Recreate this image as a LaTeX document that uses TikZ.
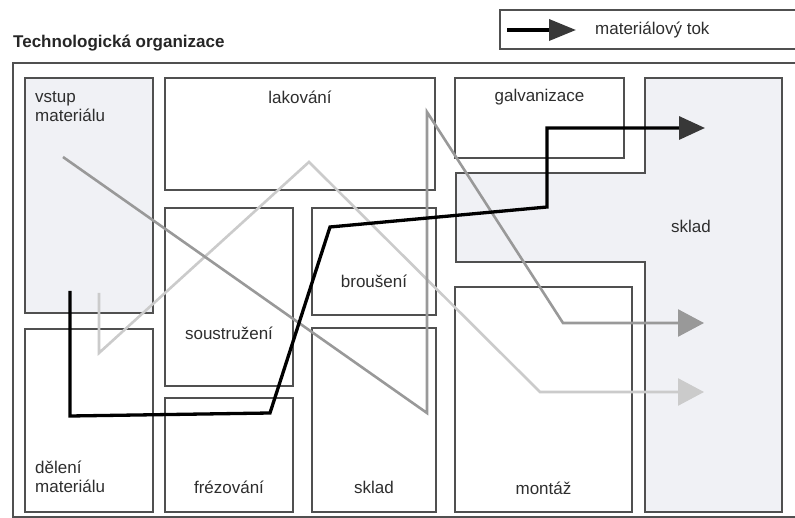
\documentclass[tikz,border=0pt]{standalone}
\usepackage{fontspec}
\setmainfont{Liberation Sans}
\usetikzlibrary{arrows.meta,positioning}
\definecolor{wall}{HTML}{505050}
\definecolor{storefill}{HTML}{F0F1F5}
\definecolor{ink}{HTML}{2E2E2E}
\definecolor{flowdark}{HTML}{383838}
\definecolor{flowmid}{HTML}{999999}
\definecolor{flowlight}{HTML}{CBCBCB}
\tikzset{zone/.style={draw=wall, line width=1.6pt, fill=white, rectangle, anchor=north west, inner sep=0pt, outer sep=0pt}, % one hall of the workshop
tag/.style={text=ink, font=\fontsize{17}{19}\selectfont, inner sep=0pt, anchor=base}, % hall names
mainflow/.style={line width=3.3pt, line join=miter, -{Triangle[length=26pt, width=23pt, fill=flowdark, color=flowdark]}}, % the main material path
sideflow/.style={line width=2.6pt, line join=miter, -{Triangle[length=26pt, width=27pt]}}, % the other paths
}
\begin{document}
\begin{tikzpicture}[x=1pt, y=-1pt]
\useasboundingbox (0,0) rectangle (795,518);
% frame, title and legend
\node[zone, fill=none, minimum width=830pt, minimum height=454pt] (plant) at (13,63) {};
\node[tag, anchor=base west, font=\fontsize{17}{19}\selectfont\bfseries, text=black!85] (title) at (13,48) {Technologická organizace};
\node[zone, minimum width=330pt, minimum height=39pt] (legend) at (500,10) {};
\node[tag, anchor=base west] (legtext) at (595,35) {materiálový tok};
\coordinate (legfrom) at (507,30);
\coordinate (legto) at (576,30);
\draw[mainflow, line width=3.6pt, -{Triangle[length=27pt, width=21pt, fill=flowdark, color=flowdark]}] (legfrom) -- (legto);
% halls
\node[zone, fill=storefill, minimum width=128pt, minimum height=235pt] (vstup) at (25,78) {};
\node[zone, minimum width=270pt, minimum height=112pt] (lak) at (165,78) {};
\node[zone, minimum width=169pt, minimum height=80pt] (galv) at (455,78) {};
\node[zone, minimum width=128pt, minimum height=178pt] (sous) at (165,208) {};
\node[zone, minimum width=124pt, minimum height=107pt] (brou) at (312,208) {};
\node[zone, minimum width=124pt, minimum height=184pt] (skladb) at (312,328) {};
\node[zone, minimum width=128pt, minimum height=114pt] (frez) at (165,398) {};
\node[zone, minimum width=128pt, minimum height=183pt] (del) at (25,329) {};
\node[zone, minimum width=177pt, minimum height=225pt] (mont) at (455,287) {};
\draw[draw=wall, line width=1.6pt, fill=storefill] (645,78) -- (782,78) -- (782,512) -- (645,512) -- (645,262) -- (456,262) -- (456,173) -- (645,173) -- cycle;
% hall names
\node[tag, anchor=south west, align=left] (vstuptag) at ([xshift=10pt, yshift=-44pt]vstup.north west) {vstup\\materiálu};
\node[tag] (laktag) at ([yshift=-26pt]lak.north) {lakování};
\node[tag] (galvtag) at ([yshift=-24pt]galv.north) {galvanizace};
\node[tag] (soustag) at ([yshift=46pt]sous.south) {soustružení};
\node[tag] (broutag) at ([yshift=27pt]brou.south) {broušení};
\node[tag] (skladbtag) at ([yshift=19pt]skladb.south) {sklad};
\node[tag] (freztag) at ([yshift=19pt]frez.south) {frézování};
\node[tag, anchor=south west, align=left] (deltag) at ([xshift=10pt, yshift=19pt]del.south west) {dělení\\materiálu};
\node[tag] (monttag) at ([yshift=18pt]mont.south) {montáž};
\node[tag] (skladtag) at (691,233) {sklad};
% material paths
\coordinate (l1) at (99,293); \coordinate (l2) at (99,353); \coordinate (l3) at (309,162);
\coordinate (l4) at (540,392); \coordinate (l5) at (704,392);
\draw[sideflow, flowlight] (l1) -- (l2) -- (l3) -- (l4) -- (l5);
\coordinate (m1) at (63,157); \coordinate (m2) at (427,413); \coordinate (m3) at (427,112);
\coordinate (m4) at (563,323); \coordinate (m5) at (704,323);
\draw[sideflow, flowmid] (m1) -- (m2) -- (m3) -- (m4) -- (m5);
\coordinate (b1) at (70,291); \coordinate (b2) at (70,416); \coordinate (b3) at (270,413);
\coordinate (b4) at (330,227); \coordinate (b5) at (547,207); \coordinate (b6) at (547,128);
\coordinate (b7) at (705,128);
\draw[mainflow, black] (b1) -- (b2) -- (b3) -- (b4) -- (b5) -- (b6) -- (b7);
\end{tikzpicture}
\end{document}
